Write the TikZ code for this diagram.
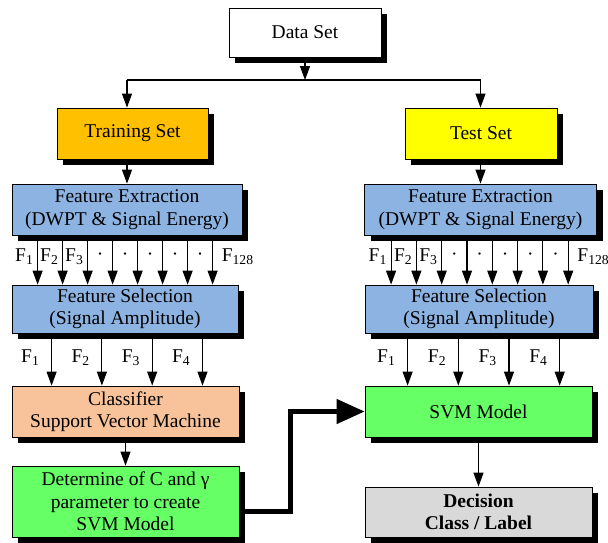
\documentclass[tikz,border=0pt]{standalone}
\usepackage{fontspec}
\setmainfont{Liberation Serif}[Ligatures=TeX]
\usetikzlibrary{arrows.meta,shadows}

\definecolor{trainorange}{HTML}{FFC000}
\definecolor{testyellow}{HTML}{FFFF00}
\definecolor{featblue}{HTML}{8DB3E2}
\definecolor{clspeach}{HTML}{F8C39B}
\definecolor{svmgreen}{HTML}{66FF66}
\definecolor{decgrey}{HTML}{D9D9D9}

\begin{document}
\begin{tikzpicture}[x=1pt,y=-1pt,
                    every node/.style={font=\fontsize{19.5}{22.5}\selectfont},
                    box/.style={draw=black, line width=0.8pt, align=center, inner sep=0pt,
                        drop shadow={shadow xshift=6pt, shadow yshift=-6pt, fill=black, opacity=1}},
                    flabel/.style={inner sep=1pt},
                    arr/.style={line width=1.1pt, -{Triangle[length=14pt,width=10pt]}},
                    bigarr/.style={line width=4.5pt, -{Triangle[length=28pt,width=24pt]}}]
                    \useasboundingbox (0,0) rectangle (608,542);

                    \node[box, fill=white, minimum width=152, minimum height=49] (data) at (305,32.5) {Data Set};
                    \node[box, fill=trainorange, minimum width=151, minimum height=51] (train) at (132.5,133.5) {Training Set};
                    \node[box, fill=testyellow, minimum width=152, minimum height=51] (test) at (481,133.5) {Test Set};

                    \node[box, fill=featblue, minimum width=230, minimum height=51] (fe1) at (127,209.5) {Feature Extraction\\(DWPT \& Signal Energy)};
                    \node[box, fill=featblue, minimum width=232, minimum height=51] (fe2) at (480.5,209.5) {Feature Extraction\\(DWPT \& Signal Energy)};
                    \node[box, fill=featblue, minimum width=226, minimum height=48] (fs1) at (125,309) {Feature Selection\\(Signal Amplitude)};
                    \node[box, fill=featblue, minimum width=228, minimum height=48] (fs2) at (479,309) {Feature Selection\\(Signal Amplitude)};

                    \node[box, fill=clspeach, minimum width=227, minimum height=51] (cls) at (125.5,411.5) {Classifier\\Support Vector Machine};
                    \node[box, fill=svmgreen, minimum width=227, minimum height=71] (det) at (125.5,501.5) {Determine of C and γ\\parameter to create\\SVM Model};
                    \node[box, fill=svmgreen, minimum width=227, minimum height=51] (svm) at (478.5,411.5) {SVM Model};
                    \node[box, fill=decgrey, minimum width=227, minimum height=50, font=\fontsize{19.5}{22.5}\selectfont\bfseries] (dec) at (478.5,512) {Decision\\Class / Label};

                    \coordinate (split) at (305,80);
                    \draw[arr] (data.south) -- (split);
                    \draw[line width=2pt] (split -| fe1.north) -- (split -| fe2.north);
                    \draw[arr] (split -| fe1.north) -- (fe1.north |- train.north);
                    \draw[arr] (split -| fe2.north) -- (fe2.north |- test.north);
                    \draw[arr] (train.south -| fe1.north) -- (fe1.north);
                    \draw[arr] (test.south -| fe2.north) -- (fe2.north);

                    \foreach \i in {0,...,7} {
                        \coordinate (l\i) at ([xshift={26+25*\i}]fe1.south west);
                        \draw[arr] (l\i) -- (l\i |- fs1.north);
                        \coordinate (r\i) at ([xshift={27+25.3*\i}]fe2.south west);
                        \draw[arr] (r\i) -- (r\i |- fs2.north);
                    }
                    \foreach \i/\t in {0/1,1/2,2/3} {
                        \node[flabel, anchor=east] at ([xshift=-3pt, yshift=-21pt]l\i) {F\textsubscript{\t}};
                        \node[flabel, anchor=east] at ([xshift=-3pt, yshift=-21pt]r\i) {F\textsubscript{\t}};
                    }
                    \foreach \i in {3,...,7} {
                        \node[flabel] at ([xshift=-12.5pt, yshift=-21pt]l\i) {·};
                        \node[flabel] at ([xshift=-12.6pt, yshift=-21pt]r\i) {·};
                    }
                    \node[flabel, anchor=west] at ([xshift=8pt, yshift=-21pt]l7) {F\textsubscript{128}};
                    \node[flabel, anchor=west] at ([xshift=8pt, yshift=-21pt]r7) {F\textsubscript{128}};

                    \foreach \i/\t in {0/1,1/2,2/3,3/4} {
                        \coordinate (p\i) at ([xshift={40+50.3*\i}]fs1.south west);
                        \draw[arr] (p\i) -- (p\i |- cls.north);
                        \node[flabel, anchor=east] at ([xshift=-11pt, yshift=-24pt]p\i) {F\textsubscript{\t}};
                        \coordinate (q\i) at ([xshift={43+50.7*\i}]fs2.south west);
                        \draw[arr] (q\i) -- (q\i |- svm.north);
                        \node[flabel, anchor=east] at ([xshift=-11pt, yshift=-24pt]q\i) {F\textsubscript{\t}};
                    }

                    \draw[arr] (cls.south) -- (det.north);
                    \draw[arr] (svm.south) -- (dec.north);
                    \draw[bigarr] ([yshift=-10pt]det.east) -- ++(51,0) |- (svm.west);
                \end{tikzpicture}
\end{document}
